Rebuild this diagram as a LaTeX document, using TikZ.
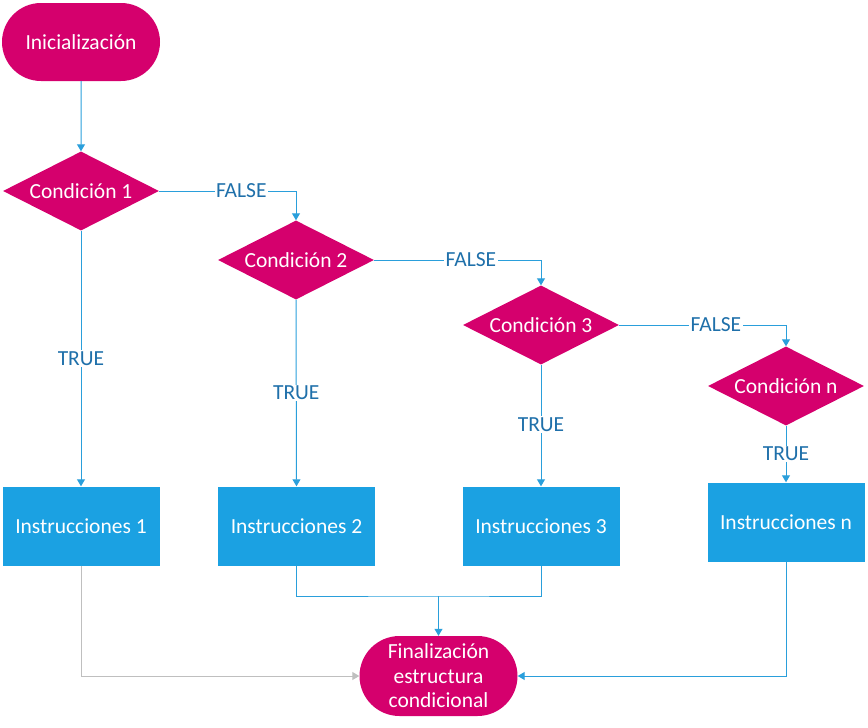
\documentclass[tikz,border=0pt]{standalone}
\usepackage{fontspec}
\setmainfont{Carlito}
\usetikzlibrary{arrows.meta,shapes.geometric,shapes.misc}
\definecolor{mag}{HTML}{D5006D}
\definecolor{boxblue}{HTML}{1BA1E2}
\definecolor{lineblue}{HTML}{2A9FDB}
\definecolor{lblblue}{HTML}{1F70AA}
\definecolor{greyline}{HTML}{BFBFBF}
\tikzset{
  term/.style={rounded rectangle, fill=mag, text=white, minimum width=158pt, minimum height=78pt, inner sep=0pt, align=center, font=\fontsize{21.5}{24.5}\selectfont},
  cond/.style={diamond, fill=mag, text=white, minimum width=156pt, minimum height=79pt, inner sep=0pt, aspect=2, font=\fontsize{21.5}{24}\selectfont},
  instr/.style={rectangle, fill=boxblue, text=white, minimum width=157pt, minimum height=79pt, inner sep=0pt, font=\fontsize{21.5}{24}\selectfont},
  conn/.style={draw=lineblue, line width=1pt, -{Triangle[width=8pt,length=7pt]}},
  connp/.style={draw=lineblue, line width=1pt},
  lbl/.style={fill=white, text=lblblue, inner sep=1.5pt, font=\fontsize{21.5}{24}\selectfont},
}
\begin{document}
\begin{tikzpicture}[x=1pt,y=-1pt]
\useasboundingbox (0,0) rectangle (868,728);
\node[term] (ini) at (81,42) {Inicialización};
\node[cond] (c1) at (81,191) {Condición 1};
\node[cond] (c2) at (296,260) {Condición 2};
\node[cond] (c3) at (541,325) {Condición 3};
\node[cond] (cn) at (786,386) {Condición n};
\node[instr] (i1) at (81,526) {Instrucciones 1};
\node[instr] (i2) at (296.5,526) {Instrucciones 2};
\node[instr] (i3) at (541,526) {Instrucciones 3};
\node[instr] (in) at (786,522) {Instrucciones n};
\node[term, minimum height=80pt] (fin) at (438.5,676) {Finalización\\estructura\\condicional};
\coordinate (m) at (438.5,596);

\draw[conn] (ini) -- (c1);
\draw[conn] (c1.east) -| node[lbl, pos=0.3] {FALSE} (c2.north);
\draw[conn] (c2.east) -| node[lbl, pos=0.29] {FALSE} (c3.north);
\draw[conn] (c3.east) -| node[lbl, pos=0.29] {FALSE} (cn.north);

\draw[conn] (c1.south) -- node[lbl, pos=0.5] {TRUE} (i1.north);
\draw[conn] (c2.south) -- node[lbl, pos=0.5] {TRUE} (i2.north);
\draw[conn] (c3.south) -- node[lbl, pos=0.49] {TRUE} (i3.north);
\draw[conn] (cn.south) -- node[lbl, pos=0.5] {TRUE} (in.north);

\draw[connp] (i2.south) |- (m) -| (i3.south);
\draw[conn] (m) -- (fin.north);
\draw[conn, draw=greyline] (i1.south) |- (fin.west);
\draw[conn] (in.south) |- (fin.east);
\end{tikzpicture}
\end{document}
